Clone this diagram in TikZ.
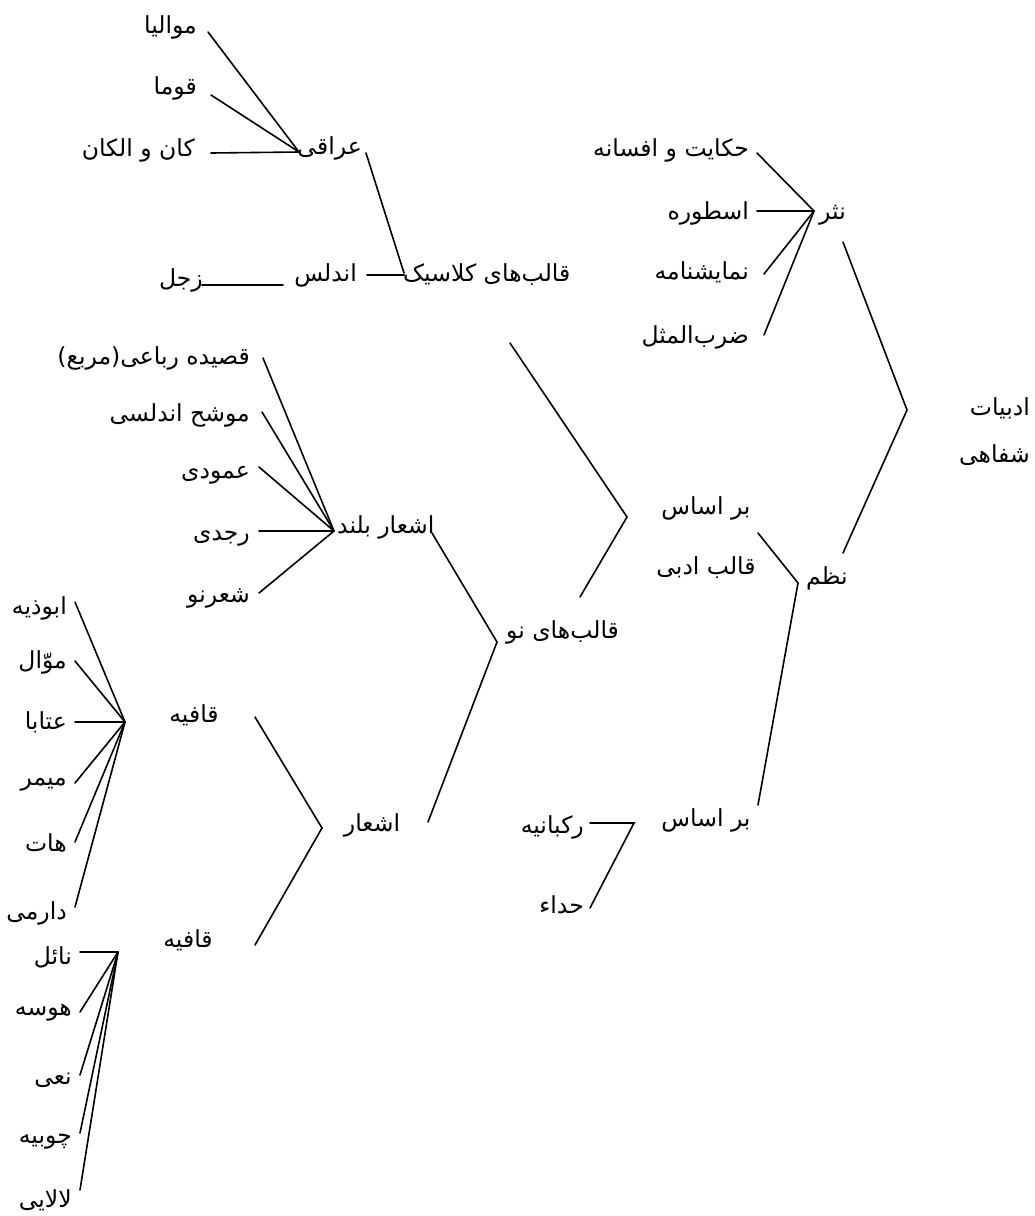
\documentclass[tikz,border=0pt]{standalone}
\usepackage{fontspec}
\usetikzlibrary{calc}
\newfontfamily\arfont[Script=Arabic]{DejaVu Sans}
\TeXXeTstate=1
\newcommand{\AR}[1]{\beginR #1\endR}
\tikzset{
  lbl/.style={inner sep=0pt, font=\arfont\fontsize{23.5}{27}\selectfont},
  conn/.style={line width=1.6pt, line cap=round, line join=miter}
}
\begin{document}
\begin{tikzpicture}[x=1pt,y=-1pt]
\useasboundingbox[fill=white] (0,0) rectangle (1035,1216);

% ---------- group: عراقی ----------
\node[lbl,anchor=east] (mawalia) at (197,27) {\AR{موالیا}};
\node[lbl,anchor=east] (quma) at (197,88) {\AR{قوما}};
\node[lbl,anchor=east] (kan) at (195,150) {\AR{کان و الکان}};
\node[lbl,anchor=east] (iraqi) at (362,148) {\AR{عراقی}};
\node[lbl,anchor=east] (andalus) at (357,275) {\AR{اندلس}};
\node[lbl,anchor=east] (zajal) at (203,280) {\AR{زجل}};
\node[lbl,anchor=west] (classic) at (403,275) {\AR{قالب^^^^200cهای کلاسیک}};
\coordinate (J1) at (299,152);
\coordinate (J2) at (404,273);
\draw[conn] ($(mawalia.east)+(11,5)$) -- (J1);
\draw[conn] ($(quma.east)+(14,7)$) -- (J1);
\draw[conn] ($(kan.east)+(16,3)$) -- (J1);
\draw[conn] ($(iraqi.east)+(4,5)$) -- (J2);
\draw[conn] ($(andalus.east)+(10,0)$) -- (J2 |- andalus.east);
\draw[conn] ($(zajal.east)+(-1,5)$) -- ($(andalus.west |- zajal.east)+(-11,5)$);

% ---------- group: نثر ----------
\node[lbl,anchor=east] (hekayat) at (749,150) {\AR{حکایت و افسانه}};
\node[lbl,anchor=east] (ostoore) at (749,213) {\AR{اسطوره}};
\node[lbl,anchor=east] (namayesh) at (749,272) {\AR{نمایشنامه}};
\node[lbl,anchor=east] (zarb) at (749,337) {\AR{ضرب^^^^200cالمثل}};
\node[lbl,anchor=west] (nasr) at (819,215) {\AR{نثر}};
\coordinate (J3) at (814,211);
\draw[conn] ($(hekayat.east)+(8,3)$) -- (J3);
\draw[conn] ($(ostoore.east)+(8,-2)$) -- (J3);
\draw[conn] ($(namayesh.east)+(15,2)$) -- (J3);
\draw[conn] ($(zarb.east)+(15,-2)$) -- (J3);

% ---------- root ----------
\node[lbl,anchor=east] (adabiyat) at (1030,408) {\AR{ادبیات}};
\node[lbl,anchor=east] (shafahi) at (1030,455) {\AR{شفاهی}};
\coordinate (N1) at (843,242);
\coordinate (V1) at (907,410);
\coordinate (N2) at (843,553);
\draw[conn] (N1) -- (V1) -- (N2);

% ---------- group: نظم ----------
\node[lbl,anchor=west] (nazm) at (806,578) {\AR{نظم}};
\node[lbl] (barasas1) at (706,508) {\AR{بر اساس}};
\node[lbl] (qalebadabi) at (706,568) {\AR{قالب ادبی}};
\node[lbl] (barasas2) at (706,820) {\AR{بر اساس}};
\coordinate (Z1) at (758,533);
\coordinate (V2) at (798,583);
\coordinate (Z2) at (758,805);
\draw[conn] (Z1) -- (V2) -- (Z2);

% ---------- group: قالب‌ها ----------
\node[lbl,anchor=west] (qalebnow) at (506,632) {\AR{قالب^^^^200cهای نو}};
\coordinate (Q1) at (510,343);
\coordinate (V3) at (627,517);
\coordinate (Q2) at (580,597);
\draw[conn] (Q1) -- (V3) -- (Q2);

% ---------- group: اشعار بلند ----------
\node[lbl,anchor=east] (qasideh) at (250,358) {\AR{قصیده رباعی(مربع)}};
\node[lbl,anchor=east] (movashah) at (250,415) {\AR{موشح اندلسی}};
\node[lbl,anchor=east] (amudi) at (250,475) {\AR{عمودی}};
\node[lbl,anchor=east] (rajadi) at (250,538) {\AR{رجدی}};
\node[lbl,anchor=east] (sherno) at (250,598) {\AR{شعرنو}};
\node[lbl,anchor=west] (ashaarboland) at (337,527) {\AR{اشعار بلند}};
\coordinate (J4) at (334,531);
\draw[conn] ($(qasideh.east)+(13,0)$) -- (J4);
\draw[conn] ($(movashah.east)+(12,-3)$) -- (J4);
\draw[conn] ($(amudi.east)+(9,-8)$) -- (J4);
\draw[conn] ($(rajadi.east)+(9,-7)$) -- (J4);
\draw[conn] ($(sherno.east)+(9,-5)$) -- (J4);

% ---------- group: اشعار ----------
\node[lbl] (ashaar) at (372,825) {\AR{اشعار}};
\coordinate (A1) at (432,533);
\coordinate (V4) at (497,642);
\coordinate (A2) at (428,822);
\draw[conn] (A1) -- (V4) -- (A2);

\node[lbl] (qafiye1) at (194,715) {\AR{قافیه}};
\node[lbl] (qafiye2) at (188,940) {\AR{قافیه}};
\coordinate (F1) at (255,717);
\coordinate (V5) at (322,828);
\coordinate (F2) at (255,945);
\draw[conn] (F1) -- (V5) -- (F2);

% ---------- leaves of قافیه 1 ----------
\node[lbl,anchor=east] (abuzie) at (67,608) {\AR{ابوذیه}};
\node[lbl,anchor=east] (mawwal) at (67,662) {\AR{موّال}};
\node[lbl,anchor=east] (ataba) at (67,722) {\AR{عتابا}};
\node[lbl,anchor=east] (meymar) at (67,785) {\AR{میمر}};
\node[lbl,anchor=east] (hat) at (67,843) {\AR{هات}};
\node[lbl,anchor=east] (darmi) at (67,913) {\AR{دارمی}};
\coordinate (J5) at (125,722);
\draw[conn] ($(abuzie.east)+(8,-6)$) -- (J5);
\draw[conn] ($(mawwal.east)+(8,-1)$) -- (J5);
\draw[conn] ($(ataba.east)+(8,0)$) -- (J5);
\draw[conn] ($(meymar.east)+(8,-2)$) -- (J5);
\draw[conn] ($(hat.east)+(8,-1)$) -- (J5);
\draw[conn] ($(darmi.east)+(8,-6)$) -- (J5);

% ---------- leaves of قافیه 2 ----------
\node[lbl,anchor=east] (nael) at (72,957) {\AR{نائل}};
\node[lbl,anchor=east] (hose) at (72,1013) {\AR{هوسه}};
\node[lbl,anchor=east] (nai) at (72,1080) {\AR{نعی}};
\node[lbl,anchor=east] (choobiye) at (72,1142) {\AR{چوبیه}};
\node[lbl,anchor=east] (lalayi) at (72,1200) {\AR{لالایی}};
\coordinate (J6) at (118,952);
\draw[conn] ($(nael.east)+(8,-5)$) -- (J6);
\draw[conn] ($(hose.east)+(8,-1)$) -- (J6);
\draw[conn] ($(nai.east)+(8,-5)$) -- (J6);
\draw[conn] ($(choobiye.east)+(8,-9)$) -- (J6);
\draw[conn] ($(lalayi.east)+(8,-10)$) -- (J6);

% ---------- رکبانیه / حداء ----------
\node[lbl,anchor=east] (rokbaniye) at (584,827) {\AR{رکبانیه}};
\node[lbl,anchor=east] (hoda) at (584,905) {\AR{حداء}};
\coordinate (J7) at (634,823);
\draw[conn] ($(rokbaniye.east)+(6,-4)$) -- (J7) -- ($(hoda.east)+(6,3)$);
\end{tikzpicture}
\end{document}
